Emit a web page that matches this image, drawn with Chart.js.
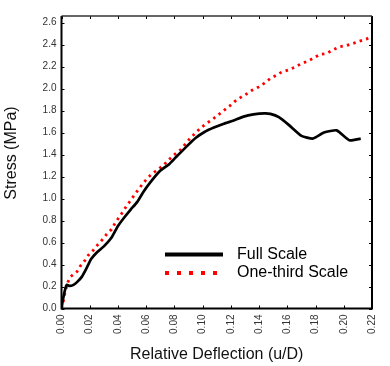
<!DOCTYPE html>
<html>
<head>
<meta charset="utf-8">
<script src="https://cdn.jsdelivr.net/npm/chart.js@4/dist/chart.umd.min.js"></script>
<style>
  html, body { margin: 0; padding: 0; background: #fff; }
  #wrap { width: 390px; height: 366px; }
</style>
</head>
<body>
<div id="wrap"><canvas id="c" width="390" height="366"></canvas></div>
<script>
// ---- data ----
const seriesNames = ["Full Scale", "One-third Scale"];

const fullX = [0, 0.001, 0.0025, 0.0038, 0.0058, 0.0085, 0.011, 0.0145, 0.0175, 0.021, 0.025, 0.030, 0.0355, 0.040, 0.0446, 0.049, 0.0537, 0.058, 0.0625, 0.0697, 0.0765, 0.081, 0.088, 0.095, 0.1013, 0.108, 0.115, 0.122, 0.129, 0.136, 0.1438, 0.148, 0.154, 0.161, 0.170, 0.178, 0.186, 0.195, 0.204, 0.212];
const fullY = [0, 0.08, 0.17, 0.215, 0.205, 0.215, 0.24, 0.29, 0.36, 0.45, 0.51, 0.565, 0.645, 0.75, 0.83, 0.9, 0.97, 1.06, 1.14, 1.25, 1.315, 1.375, 1.465, 1.55, 1.605, 1.645, 1.68, 1.71, 1.745, 1.765, 1.775, 1.77, 1.74, 1.67, 1.57, 1.545, 1.60, 1.62, 1.53, 1.545];

const thirdX = [0, 0.0012, 0.0024, 0.0036, 0.0047, 0.0065, 0.011, 0.0133, 0.0168, 0.019, 0.0225, 0.0257, 0.029, 0.032, 0.0355, 0.0378, 0.0405, 0.0434, 0.046, 0.0487, 0.0515, 0.0544, 0.0576, 0.0606, 0.064, 0.068, 0.072, 0.0758, 0.079, 0.0845, 0.088, 0.0913, 0.096, 0.0993, 0.1035, 0.107, 0.111, 0.115, 0.119, 0.123, 0.127, 0.131, 0.135, 0.1397, 0.1438, 0.1477, 0.152, 0.156, 0.161, 0.1655, 0.170, 0.1746, 0.179, 0.183, 0.188, 0.192, 0.197, 0.2015, 0.2065, 0.211, 0.216, 0.2185];
const thirdY = [0, 0.06, 0.14, 0.2, 0.245, 0.29, 0.335, 0.385, 0.44, 0.485, 0.53, 0.58, 0.627, 0.675, 0.72, 0.773, 0.824, 0.878, 0.93, 0.978, 1.03, 1.08, 1.136, 1.18, 1.225, 1.26, 1.30, 1.35, 1.39, 1.445, 1.50, 1.55, 1.61, 1.65, 1.69, 1.72, 1.76, 1.80, 1.84, 1.885, 1.92, 1.95, 1.985, 2.015, 2.05, 2.09, 2.12, 2.15, 2.17, 2.196, 2.227, 2.25, 2.28, 2.31, 2.32, 2.35, 2.38, 2.39, 2.41, 2.43, 2.45, 2.47];

const xTitle = "Relative Deflection (u/D)";
const yTitle = "Stress (MPa)";
const xMin = 0, xMax = 0.22, xStep = 0.02;
const yMin = 0, yMax = 2.66, yStep = 0.2;

// ---- build ----
const toPts = (xs, ys) => xs.map((x, i) => ({ x: x, y: ys[i] }));
const FONT = "'Liberation Sans', Arial, sans-serif";

const framePlugin = {
  id: 'frame',
  afterDatasetsDraw(chart) {
    const { ctx, chartArea: a, scales } = chart;
    const xs = scales.x, ys = scales.y;
    ctx.save();
    // inward tick marks
    ctx.strokeStyle = '#000';
    ctx.lineWidth = 1;
    const tl = 3;
    ctx.beginPath();
    xs.ticks.forEach(t => {
      const p = Math.round(xs.getPixelForValue(t.value)) + 0.5;
      ctx.moveTo(p, a.bottom); ctx.lineTo(p, a.bottom - tl);
      ctx.moveTo(p, a.top); ctx.lineTo(p, a.top + tl);
    });
    ys.ticks.forEach(t => {
      const p = Math.round(ys.getPixelForValue(t.value)) + 0.5;
      ctx.moveTo(a.left, p); ctx.lineTo(a.left + tl, p);
      ctx.moveTo(a.right, p); ctx.lineTo(a.right - tl, p);
    });
    ctx.stroke();
    // frame
    ctx.lineWidth = 2;
    ctx.beginPath();
    ctx.moveTo(a.left, a.top); ctx.lineTo(a.left, a.bottom); ctx.lineTo(a.right, a.bottom); ctx.lineTo(a.right, a.top);
    ctx.stroke();
    ctx.lineWidth = 1.5;
    ctx.strokeStyle = '#333';
    ctx.beginPath();
    ctx.moveTo(a.left, a.top); ctx.lineTo(a.right, a.top);
    ctx.stroke();

    // y-axis title
    ctx.fillStyle = '#111';
    ctx.font = "16px " + FONT;
    ctx.textAlign = 'center';
    ctx.textBaseline = 'middle';
    ctx.save();
    ctx.translate(12, 153);
    ctx.rotate(-Math.PI / 2);
    ctx.fillText(yTitle, 0, 0);
    ctx.restore();

    // legend
    const ds = chart.data.datasets;
    const lx0 = 165, lx1 = 223, ty = 237;
    const rows = [254.5, 273];
    ctx.lineCap = 'butt';
    ctx.setLineDash([]);
    ctx.strokeStyle = ds[0].borderColor;
    ctx.lineWidth = 4;
    ctx.beginPath(); ctx.moveTo(lx0, rows[0]); ctx.lineTo(lx1, rows[0]); ctx.stroke();
    ctx.strokeStyle = ds[1].borderColor;
    ctx.setLineDash([4, 8]);
    ctx.beginPath(); ctx.moveTo(lx0, rows[1]); ctx.lineTo(lx1 - 4, rows[1]); ctx.stroke();
    ctx.setLineDash([]);
    ctx.fillStyle = '#000';
    ctx.textAlign = 'left';
    ctx.fillText(ds[0].label, ty, rows[0]);
    ctx.fillText(ds[1].label, ty, rows[1]);
    ctx.restore();
  }
};

new Chart(document.getElementById('c'), {
  type: 'scatter',
  data: {
    datasets: [
      {
        label: seriesNames[0],
        data: toPts(fullX, fullY),
        showLine: true,
        borderColor: '#000000',
        borderWidth: 2.7,
        pointRadius: 0,
        tension: 0.15,
        fill: false
      },
      {
        label: seriesNames[1],
        data: toPts(thirdX, thirdY),
        showLine: true,
        borderColor: '#ff0000',
        borderWidth: 2.8,
        borderDash: [2.5, 4.2],
        pointRadius: 0,
        tension: 0,
        fill: false
      }
    ]
  },
  options: {
    responsive: false,
    animation: false,
    devicePixelRatio: 1,
    layout: { padding: { top: 16, right: 7, left: 0, bottom: 0 } },
    plugins: { legend: { display: false }, tooltip: { enabled: false } },
    scales: {
      x: {
        type: 'linear',
        min: xMin, max: xMax,
        grid: { display: false, drawTicks: false },
        border: { display: false },
        ticks: {
          stepSize: xStep,
          autoSkip: false,
          minRotation: 90, maxRotation: 90,
          padding: 6,
          color: '#333',
          font: { family: FONT, size: 10 },
          callback: v => Number(v).toFixed(2)
        },
        title: { display: true, text: xTitle, color: '#111', font: { family: FONT, size: 16 }, padding: { top: 0, bottom: 2 } },
        afterFit: s => { s.height = 57.5; }
      },
      y: {
        type: 'linear',
        min: yMin, max: yMax,
        grid: { display: false, drawTicks: false },
        border: { display: false },
        ticks: {
          stepSize: yStep,
          includeBounds: false,
          padding: 5,
          color: '#333',
          font: { family: FONT, size: 10 },
          callback: v => Number(v).toFixed(1)
        },
        title: { display: false, text: yTitle },
        afterFit: s => { s.width = 61.5; }
      }
    }
  },
  plugins: [framePlugin]
});
</script>
</body>
</html>
